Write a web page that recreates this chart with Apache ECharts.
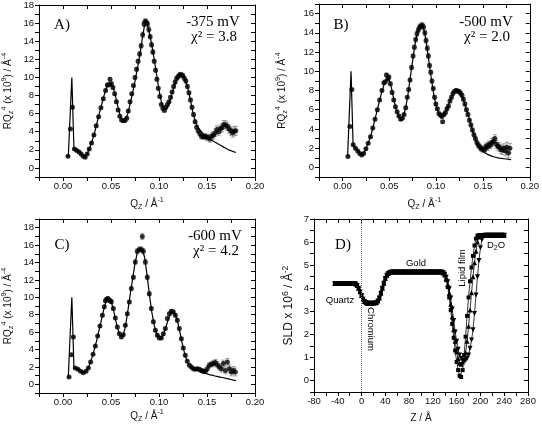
<!DOCTYPE html>
<html><head><meta charset="utf-8">
<script src="https://cdn.jsdelivr.net/npm/echarts/dist/echarts.min.js"></script>
<style>html,body{margin:0;padding:0;background:#fff}#c{width:542px;height:425px}</style>
</head><body><div id="c"></div>
<script>
// ---------- DATA ----------
// Panel A (-375 mV)
const qA = [0.0052,0.0077,0.0098,0.0119,0.0143,0.0168,0.0189,0.0210,0.0231,0.0252,
0.0273,0.0297,0.0322,0.0346,0.0371,0.0395,0.0420,0.0444,0.0462,0.0478,
0.0490,0.0505,0.0520,0.0538,0.0556,0.0574,0.0592,0.0610,0.0628,0.0646,
0.0664,0.0680,0.0698,0.0716,0.0734,0.0750,0.0766,0.0782,0.0798,0.0814,
0.0830,0.0844,0.0856,0.0868,0.0880,0.0894,0.0908,0.0922,0.0936,0.0950,
0.0964,0.0978,0.0992,0.1008,0.1024,0.1040,0.1056,0.1072,0.1088,0.1104,
0.1120,0.1136,0.1152,0.1168,0.1184,0.1200,0.1216,0.1232,0.1248,0.1264,
0.1280,0.1296,0.1312,0.1328,0.1344,0.1360,0.1376,0.1392,0.1408,0.1424,
0.1442,0.1460,0.1478,0.1496,0.1514,0.1532,0.1550,0.1568,0.1586,0.1604,
0.1622,0.1640,0.1658,0.1676,0.1694,0.1712,0.1730,0.1748,0.1766,0.1784,
0.1800];
const rA = [1.28,4.3,6.7,2.1,1.93,1.75,1.55,1.3,1.18,1.55,
2.1,2.75,3.65,4.65,5.65,6.65,7.65,8.55,9.15,9.2,
9.8,9.3,8.9,8.2,7.3,6.4,5.7,5.3,5.2,5.25,
5.5,6.3,7.3,8.2,9.1,10.0,10.9,11.8,12.6,13.5,
14.7,15.9,16.2,16.1,15.9,15.3,14.5,13.6,12.8,11.8,
10.8,9.8,8.8,7.9,7.0,6.6,6.35,6.7,7.0,7.3,
7.8,8.4,9.0,9.5,9.9,10.1,10.3,10.3,10.2,9.9,
9.6,9.0,8.3,7.5,6.7,5.9,5.1,4.5,4.1,3.8,
3.5,3.45,3.5,3.4,3.35,3.2,3.55,3.6,3.9,4.25,
4.0,4.35,4.45,4.8,4.75,4.6,4.3,4.1,3.9,4.05,
4.1];
const eA = [0.1,0.1,0.12,0.1,0.1,0.1,0.1,0.1,0.1,0.1,
0.1,0.1,0.1,0.12,0.12,0.12,0.15,0.15,0.2,0.2,
0.2,0.2,0.2,0.18,0.15,0.15,0.12,0.12,0.12,0.12,
0.12,0.15,0.15,0.15,0.18,0.2,0.2,0.2,0.25,0.25,
0.3,0.3,0.3,0.3,0.3,0.3,0.25,0.25,0.25,0.2,
0.2,0.2,0.2,0.18,0.15,0.15,0.15,0.15,0.15,0.15,
0.18,0.18,0.2,0.2,0.22,0.25,0.25,0.25,0.25,0.25,
0.22,0.22,0.2,0.2,0.2,0.2,0.2,0.2,0.22,0.25,
0.3,0.3,0.3,0.35,0.35,0.35,0.4,0.4,0.4,0.4,
0.4,0.4,0.45,0.45,0.45,0.45,0.45,0.5,0.5,0.5,
0.5];

// Panel B (-500 mV)
const qB = [0.0059,0.0080,0.0101,0.0115,0.0139,0.0164,0.0185,0.0206,0.0226,0.0251,
0.0275,0.0300,0.0324,0.0348,0.0373,0.0397,0.0422,0.0443,0.0458,0.0470,
0.0485,0.0496,0.0512,0.0530,0.0548,0.0566,0.0584,0.0603,0.0622,0.0640,
0.0658,0.0676,0.0692,0.0707,0.0722,0.0738,0.0754,0.0768,0.0782,0.0796,
0.0810,0.0824,0.0838,0.0852,0.0866,0.0880,0.0893,0.0906,0.0918,0.0930,
0.0943,0.0956,0.0970,0.0984,0.0998,0.1014,0.1030,0.1046,0.1062,0.1070,
0.1085,0.1100,0.1116,0.1132,0.1148,0.1164,0.1180,0.1196,0.1212,0.1228,
0.1244,0.1260,0.1276,0.1292,0.1308,0.1324,0.1340,0.1356,0.1372,0.1388,
0.1404,0.1420,0.1436,0.1452,0.1468,0.1484,0.1500,0.1516,0.1532,0.1548,
0.1564,0.1580,0.1596,0.1612,0.1628,0.1644,0.1660,0.1676,0.1692,0.1708,
0.1724,0.1740,0.1756,0.1772,0.1788];
const rB = [1.14,4.25,8.1,2.35,2.0,1.7,1.45,1.3,1.45,1.95,
2.5,3.2,4.1,5.0,6.0,7.0,8.0,8.8,8.9,9.6,
9.2,9.4,8.7,7.8,7.0,6.3,5.8,5.35,5.0,5.1,
5.5,6.2,7.3,8.1,9.1,10.4,11.6,12.5,13.3,13.9,
14.3,14.6,14.7,14.8,14.6,14.0,13.2,12.4,11.6,10.6,
9.9,9.0,8.2,7.3,6.6,6.1,5.6,5.45,5.3,4.75,
5.5,5.7,6.1,6.4,6.9,7.3,7.7,7.9,8.0,7.95,
7.9,7.75,7.5,7.1,6.6,6.0,5.5,4.9,4.4,3.9,
3.4,3.0,2.6,2.3,2.1,1.95,1.85,1.8,2.2,2.1,
2.4,2.3,2.6,2.7,3.0,2.4,2.2,2.1,1.9,1.8,
2.0,1.7,2.1,1.5,2.0];
const eB = [0.1,0.1,0.1,0.1,0.1,0.1,0.1,0.1,0.1,0.1,
0.1,0.1,0.1,0.12,0.12,0.12,0.15,0.15,0.18,0.2,
0.2,0.2,0.2,0.18,0.15,0.15,0.12,0.12,0.12,0.12,
0.12,0.15,0.15,0.15,0.18,0.2,0.2,0.2,0.25,0.25,
0.25,0.3,0.3,0.3,0.3,0.3,0.25,0.25,0.25,0.2,
0.2,0.2,0.2,0.18,0.15,0.15,0.15,0.15,0.15,0.15,
0.15,0.15,0.15,0.18,0.18,0.2,0.2,0.2,0.2,0.2,
0.2,0.2,0.2,0.2,0.2,0.2,0.2,0.2,0.2,0.2,
0.22,0.25,0.25,0.25,0.3,0.3,0.3,0.3,0.35,0.35,
0.35,0.35,0.4,0.4,0.4,0.4,0.4,0.45,0.45,0.45,
0.45,0.5,0.5,0.5,0.5];

// Panel C (-600 mV)
const qC = [0.0063,0.0087,0.0108,0.0128,0.0156,0.0184,0.0212,0.0240,0.0264,0.0288,
0.0313,0.0337,0.0361,0.0385,0.0410,0.0430,0.0442,0.0455,0.0467,0.0479,
0.0491,0.0503,0.0524,0.0545,0.0566,0.0587,0.0608,0.0628,0.0649,0.0670,
0.0691,0.0712,0.0733,0.0753,0.0774,0.0795,0.0816,0.0826,0.0837,0.0858,
0.0878,0.0899,0.0920,0.0941,0.0962,0.0983,0.1003,0.1024,0.1045,0.1066,
0.1087,0.1108,0.1128,0.1149,0.1170,0.1191,0.1212,0.1233,0.1253,0.1274,
0.1295,0.1316,0.1337,0.1358,0.1378,0.1399,0.1420,0.1441,0.1462,0.1483,
0.1503,0.1524,0.1545,0.1566,0.1587,0.1608,0.1628,0.1649,0.1670,0.1691,
0.1712,0.1733,0.1753,0.1774,0.1795];
const rC = [0.84,3.4,5.44,1.88,1.72,1.5,1.34,1.5,1.88,2.57,
3.45,4.4,5.56,6.7,7.93,8.9,9.6,9.77,9.85,9.7,
9.6,9.5,8.7,7.62,6.6,5.82,5.44,5.7,6.78,8.1,
9.46,11.0,12.3,14.06,15.3,15.5,15.5,17.0,15.3,14.06,
12.3,10.4,8.7,7.2,6.2,5.63,5.33,5.33,5.82,6.4,
7.55,8.1,8.4,8.3,7.93,7.36,6.4,5.25,4.18,3.33,
2.64,2.18,2.0,1.8,1.72,1.8,1.72,1.6,1.5,1.5,
1.8,2.18,2.3,2.38,2.5,2.26,2.0,1.8,2.38,1.6,
2.57,1.8,1.42,1.6,1.42];
const eC = [0.1,0.1,0.1,0.1,0.1,0.1,0.1,0.1,0.1,0.1,
0.12,0.12,0.12,0.15,0.15,0.18,0.2,0.2,0.2,0.2,
0.2,0.2,0.18,0.15,0.15,0.12,0.12,0.12,0.15,0.15,
0.18,0.2,0.22,0.25,0.3,0.3,0.3,0.35,0.3,0.3,
0.25,0.22,0.2,0.18,0.15,0.15,0.15,0.15,0.15,0.15,
0.18,0.2,0.2,0.2,0.2,0.2,0.18,0.18,0.15,0.15,
0.15,0.15,0.15,0.15,0.15,0.15,0.2,0.2,0.25,0.25,
0.3,0.3,0.3,0.35,0.35,0.35,0.35,0.4,0.4,0.4,
0.4,0.45,0.45,0.45,0.45];

// Fit curves (shared Q grid)
const fitQ = [0.0055,0.0092,0.0114,
0.015,0.0175,0.02,0.0225,0.025,0.0275,0.03,0.0325,0.035,0.0375,
0.04,0.0425,0.045,0.0475,0.05,0.0525,0.055,0.0575,0.06,0.0625,
0.065,0.0675,0.07,0.0725,0.075,0.0775,0.08,0.0825,0.085,0.0875,
0.09,0.0925,0.095,0.0975,0.1,0.1025,0.105,0.1075,0.11,0.1125,
0.115,0.1175,0.12,0.1225,0.125,0.1275,0.13,0.1325,0.135,0.1375,
0.14,0.1425,0.145,0.1475,0.15,0.1525,0.155,0.1575,0.16,0.1625,
0.165,0.1675,0.17,0.1725,0.175,0.1775,0.18];
const fitA = [1.2,10.0,2.1,
1.9,1.7,1.4,1.25,1.5,2.15,2.85,3.75,4.8,5.9,
6.9,7.9,8.8,9.3,9.35,8.8,7.8,6.6,5.6,5.2,
5.3,6.0,7.1,8.3,9.6,11.0,12.5,14.2,15.8,16.0,
14.9,13.6,12.0,10.3,8.6,7.3,6.5,6.5,7.0,7.8,
8.7,9.5,10.0,10.3,10.2,9.7,8.8,7.6,6.3,5.2,
4.6,4.2,3.9,3.6,3.4,3.2,3.05,2.9,2.75,2.6,
2.45,2.3,2.15,2.0,1.9,1.8,1.7];
const fitB = [1.1,10.0,2.35,
1.9,1.6,1.35,1.4,1.9,2.5,3.2,4.1,5.1,6.1,
7.1,8.0,8.8,9.2,9.1,8.2,7.0,6.0,5.4,5.05,
5.3,6.2,7.6,9.4,11.1,12.8,14.0,14.6,14.7,14.2,
12.7,10.9,9.2,7.6,6.4,5.7,5.4,5.4,5.7,6.3,
6.9,7.5,7.9,8.0,7.8,7.4,6.8,6.0,5.2,4.3,
3.5,2.8,2.3,1.95,1.7,1.5,1.35,1.25,1.15,1.08,
1.02,0.97,0.93,0.9,0.87,0.84,0.8];
const fitC = [0.8,10.0,1.9,
1.75,1.55,1.35,1.4,1.65,2.2,3.0,3.95,5.0,6.2,
7.4,8.6,9.6,9.9,9.6,8.6,7.3,6.2,5.55,5.6,
6.6,8.4,10.3,12.1,13.9,15.2,15.6,15.5,14.6,12.6,
10.3,8.3,6.8,5.8,5.35,5.3,5.8,6.7,7.6,8.2,
8.3,7.9,6.9,5.6,4.3,3.2,2.5,2.0,1.75,1.65,
1.6,1.5,1.4,1.3,1.2,1.12,1.05,0.98,0.92,0.86,
0.8,0.75,0.68,0.62,0.55,0.48,0.42];

// Panel D: SLD profiles
const zD = [-45,-42.5,-40,-37.5,-35,-32.5,-30,-27.5,-25,-22.5,
-20,-17.5,-15,-12.5,-10,-7.5,-5,-2.5,0,2.5,
5,7.5,10,12.5,15,17.5,20,22.5,25,27.5,
30,32.5,35,37.5,40,42.5,45,47.5,50,52.5,
55,57.5,60,62.5,65,67.5,70,72.5,75,77.5,
80,82.5,85,87.5,90,92.5,95,97.5,100,102.5,
105,107.5,110,112.5,115,117.5,120,122.5,125,127.5,
130,132.5,135,137.5,140,142.5,145,147.5,150,152.5,
155,157.5,160,162.5,165,167.5,170,172.5,175,177.5,
180,182.5,185,187.5,190,192.5,195,197.5,200,202.5,
205,207.5,210,212.5,215,217.5,220,222.5,225,227.5,
230,232.5,235,237.5,240];
const sldCommon = [4.2,4.2,4.2,4.2,4.2,4.2,4.2,4.2,4.2,4.2,
4.2,4.2,4.2,4.2,4.18,4.12,4.0,3.85,3.68,3.52,
3.42,3.37,3.35,3.35,3.35,3.35,3.35,3.36,3.38,3.45,
3.58,3.78,4.0,4.22,4.42,4.56,4.64,4.68,4.7,4.7,
4.7,4.7,4.7,4.7,4.7,4.7,4.7,4.7,4.7,4.7,
4.7,4.7,4.7,4.7,4.7,4.7,4.7,4.7,4.7,4.7,
4.7,4.7,4.7,4.7,4.7,4.7,4.7,4.7,4.7,4.7,
4.7,4.7,4.7];
const sldDip1 = [4.65,4.55,4.35,4.05,3.6,3.05,2.45,1.85,1.3,0.8,
0.45,0.2,0.15,0.45,1.1,1.9,2.8,3.6,4.3,4.9,
5.4,5.85,6.15,6.28,6.3,6.3,6.3,6.3,6.3,6.3,
6.3,6.3,6.3,6.3,6.3,6.3,6.3,6.3,6.3,6.3,
6.3,6.3];
const sldDip2 = [4.66,4.58,4.42,4.15,3.78,3.3,2.75,2.2,1.7,1.25,
0.95,0.75,0.7,0.8,0.9,1.2,1.7,2.35,3.05,3.8,
4.5,5.1,5.6,6.0,6.22,6.3,6.3,6.3,6.3,6.3,
6.3,6.3,6.3,6.3,6.3,6.3,6.3,6.3,6.3,6.3,
6.3,6.3];
const sldDip3 = [4.67,4.6,4.48,4.28,3.98,3.58,3.1,2.6,2.1,1.7,
1.35,1.1,0.95,0.88,0.85,0.88,0.95,1.1,1.4,1.75,
2.2,2.9,3.7,4.5,5.2,5.75,6.1,6.25,6.3,6.3,
6.3,6.3,6.3,6.3,6.3,6.3,6.3,6.3,6.3,6.3,
6.3,6.3];

// ---------- CHART ----------
const SANS = 'Liberation Sans, Arial, sans-serif';
const SERIF = 'Liberation Serif, Times New Roman, serif';
const TXT = '#111';
function mkRich(fs){
  return {
    n:{fontSize:fs,fontFamily:SANS,color:TXT,lineHeight:fs+4},
    sub:{fontSize:fs*0.72,fontFamily:SANS,color:TXT,lineHeight:fs*0.72,verticalAlign:'bottom'},
    sup:{fontSize:fs*0.72,fontFamily:SANS,color:TXT,lineHeight:fs*0.72,verticalAlign:'top'}
  };
}
const rich = mkRich(10);
const richBig = mkRich(12);
const qName = '{n|Q}{sub|Z}{n| / Å}{sup|-1}';
const rName = '{n|RQ}{sub|z}{sup|4}{n| (x 10}{sup|9}{n|) / Å}{sup|-4}';
const sldName = '{n|SLD x 10}{sup|6}{n| / Å}{sup|-2}';

function qFmt(v){ const k=Math.round(v/0.025); return (k>=0 && k%2===0) ? (k*0.025).toFixed(2) : ''; }
function evenFmt(v){ const k=Math.round(v); return (k>=0 && k%2===0 && Math.abs(v-k)<1e-6) ? String(k) : ''; }
function intFmt(v){ return Math.abs(v-Math.round(v))<1e-6 ? String(Math.round(v)) : ''; }
function zFmt(v){ return (Math.round(v)%40===0) ? String(Math.round(v)) : ''; }

const LBL = 9.5;
const line = {color:'#000',width:1};
function xAxes(gi,min,max,interval,fmt,name,gap,r){
  return [
    {type:'value',gridIndex:gi,position:'bottom',min,max,interval,
     axisLine:{onZero:false,lineStyle:line},axisTick:{inside:false,length:4,lineStyle:line},
     axisLabel:{formatter:fmt,fontSize:LBL,fontFamily:SANS,color:TXT,margin:4,hideOverlap:false},
     splitLine:{show:false},name,nameLocation:'middle',nameGap:gap,nameTextStyle:{rich:r||rich}},
    {type:'value',gridIndex:gi,position:'top',min,max,interval,
     axisLine:{onZero:false,lineStyle:line},axisTick:{inside:true,length:4,lineStyle:line},
     axisLabel:{show:false},splitLine:{show:false}}
  ];
}
function yAxes(gi,min,max,interval,fmt,name,gap,r){
  return [
    {type:'value',gridIndex:gi,position:'left',min,max,interval,
     axisLine:{onZero:false,lineStyle:line},axisTick:{inside:false,length:4,lineStyle:line},
     axisLabel:{formatter:fmt,fontSize:LBL,fontFamily:SANS,color:TXT,margin:5,hideOverlap:false},
     splitLine:{show:false},name,nameLocation:'middle',nameRotate:90,nameGap:gap,nameTextStyle:{rich:r||rich}},
    {type:'value',gridIndex:gi,position:'right',min,max,interval,
     axisLine:{onZero:false,lineStyle:line},axisTick:{inside:true,length:4,lineStyle:line},
     axisLabel:{show:false},splitLine:{show:false}}
  ];
}

function reflSeries(gi,q,r,e,fit){
  const ax = {xAxisIndex:gi*2,yAxisIndex:gi*2};
  return [
    Object.assign({type:'custom',z:2,silent:true,
      data:q.map((x,i)=>[x,r[i]-e[i],r[i]+e[i]]),
      encode:{x:0,y:[1,2]},
      renderItem:(p,api)=>{
        const x=api.value(0);
        const lo=api.coord([x,api.value(1)]), hi=api.coord([x,api.value(2)]);
        const w=2, st={stroke:'#888',lineWidth:0.8};
        return {type:'group',children:[
          {type:'line',shape:{x1:lo[0],y1:lo[1],x2:hi[0],y2:hi[1]},style:st},
          {type:'line',shape:{x1:lo[0]-w,y1:lo[1],x2:lo[0]+w,y2:lo[1]},style:st},
          {type:'line',shape:{x1:hi[0]-w,y1:hi[1],x2:hi[0]+w,y2:hi[1]},style:st}]};
      }},ax),
    Object.assign({type:'line',z:3,silent:true,symbol:'none',
      data:fitQ.map((x,i)=>[x,fit[i]]),lineStyle:{color:'#000',width:1.2}},ax),
    Object.assign({type:'scatter',z:4,silent:true,symbol:'circle',symbolSize:5,
      data:q.map((x,i)=>[x,r[i]]),itemStyle:{color:'#000'}},ax)
  ];
}

function sldSeries(dip,symbol,rotate,extra){
  const vals = sldCommon.concat(dip);
  return Object.assign({type:'line',xAxisIndex:6,yAxisIndex:6,silent:true,
    data:zD.map((z,i)=>[z,vals[i]]),
    symbol,symbolSize:symbol==='rect'?4:5,symbolRotate:rotate,showAllSymbol:true,
    itemStyle:{color:'#000'},lineStyle:{color:'#000',width:0.8}},extra||{});
}

const grids = [
  {left:39,top:4,width:216,height:173},
  {left:319,top:4,width:214,height:173},
  {left:39,top:219,width:216,height:174},
  {left:314,top:219,width:214,height:173}
];

function txt(x,y,text,font,extra){
  return Object.assign({type:'text',x,y,silent:true,
    style:{text,font,fill:'#000',align:'center',verticalAlign:'middle'}},extra||{});
}
const serifF = '15px '+SERIF;
const sansF = '9.5px '+SANS;

const option = {
  animation:false,
  backgroundColor:'#fff',
  grid:grids,
  xAxis:[].concat(
    xAxes(0,-0.025,0.2,0.025,qFmt,qName,20),
    xAxes(1,-0.025,0.2,0.025,qFmt,qName,20),
    xAxes(2,-0.025,0.2,0.025,qFmt,qName,16),
    xAxes(3,-80,280,20,zFmt,'{n|Z / Å}',19)
  ),
  yAxis:[].concat(
    yAxes(0,-1,18,1,evenFmt,rName,24),
    yAxes(1,-1,17,1,evenFmt,rName,30),
    yAxes(2,-1,19,1,evenFmt,rName,24),
    yAxes(3,-0.5,7,0.5,intFmt,sldName,17,richBig)
  ),
  series:[].concat(
    reflSeries(0,qA,rA,eA,fitA),
    reflSeries(1,qB,rB,eB,fitB),
    reflSeries(2,qC,rC,eC,fitC),
    [
      sldSeries(sldDip1,'rect',0,{markLine:{silent:true,symbol:'none',label:{show:false},
        lineStyle:{type:'dotted',color:'#777',width:1},data:[{xAxis:0}]}}),
      sldSeries(sldDip2,'triangle',0),
      sldSeries(sldDip3,'triangle',180)
    ]
  ),
  graphic:[
    txt(62,25,'A)',serifF), txt(213,22,'-375 mV',serifF), txt(214,37,'χ² = 3.8',serifF),
    txt(341,25,'B)',serifF), txt(486,22,'-500 mV',serifF), txt(487,37,'χ² = 2.0',serifF),
    txt(62,245,'C)',serifF), txt(215,236,'-600 mV',serifF), txt(216,251,'χ² = 4.2',serifF),
    txt(343,245,'D)',serifF),
    txt(340,300,'Quartz',sansF),
    txt(416,263,'Gold',sansF),
    txt(371,329,'Chromium',sansF,{rotation:-Math.PI/2}),
    txt(462,268,'Lipid film',sansF,{rotation:Math.PI/2}),
    {type:'text',x:496,y:245,silent:true,style:{text:'{n|D}{s|2}{n|O}',align:'center',verticalAlign:'middle',
      rich:{n:{fontSize:9.5,fontFamily:SANS,fill:'#000',lineHeight:13},s:{fontSize:7,fontFamily:SANS,fill:'#000',lineHeight:7,verticalAlign:'bottom'}}}}
  ]
};

const chart = echarts.init(document.getElementById('c'),null,{renderer:'canvas'});
chart.setOption(option);
</script></body></html>
